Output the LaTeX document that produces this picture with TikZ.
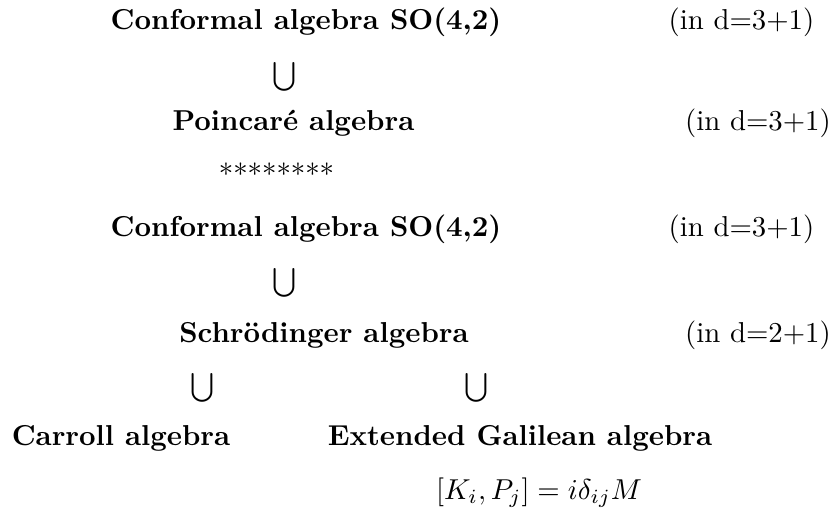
\documentclass[tikz,border=0pt]{standalone}
\begin{document}
\begin{tikzpicture}[x=0.3472pt,y=-0.3472pt,
  every node/.style={inner sep=0pt,outer sep=0pt},
  alg/.style={anchor=base,font=\bfseries},
  dim/.style={anchor=base},
  sub/.style={anchor=center}]
\useasboundingbox (0,0) rectangle (834,508);
% first block
\node[alg] (conf1) at (306,29) {Conformal algebra SO(4,2)};
\node[dim] (d1) at (741.5,29) {(in d=3+1)};
\node[sub] (cup1) at (284,76.5) {$\bigcup$};
\node[alg] (poin) at (293.5,130) {Poincar\'e algebra};
\node[dim] (d2) at (758,130) {(in d=3+1)};
\node[anchor=base] (stars) at (276.5,184.5) {********};
% second block
\node[alg] (conf2) at (306,236) {Conformal algebra SO(4,2)};
\node[dim] (d3) at (741.5,236) {(in d=3+1)};
\node[sub] (cup2) at (284,282.5) {$\bigcup$};
\node[alg] (schr) at (324,342) {Schr\"odinger algebra};
\node[dim] (d4) at (758,342) {(in d=2+1)};
\node[sub] (cup3) at (202,387.5) {$\bigcup$};
\node[sub] (cup4) at (476,387.5) {$\bigcup$};
\node[alg] (carr) at (121,445) {Carroll algebra};
\node[alg] (gal) at (520,445) {Extended Galilean algebra};
\node[anchor=base] (comm) at (539,499) {$[K_i,P_j]=i\delta_{ij}M$};
\end{tikzpicture}
\end{document}
